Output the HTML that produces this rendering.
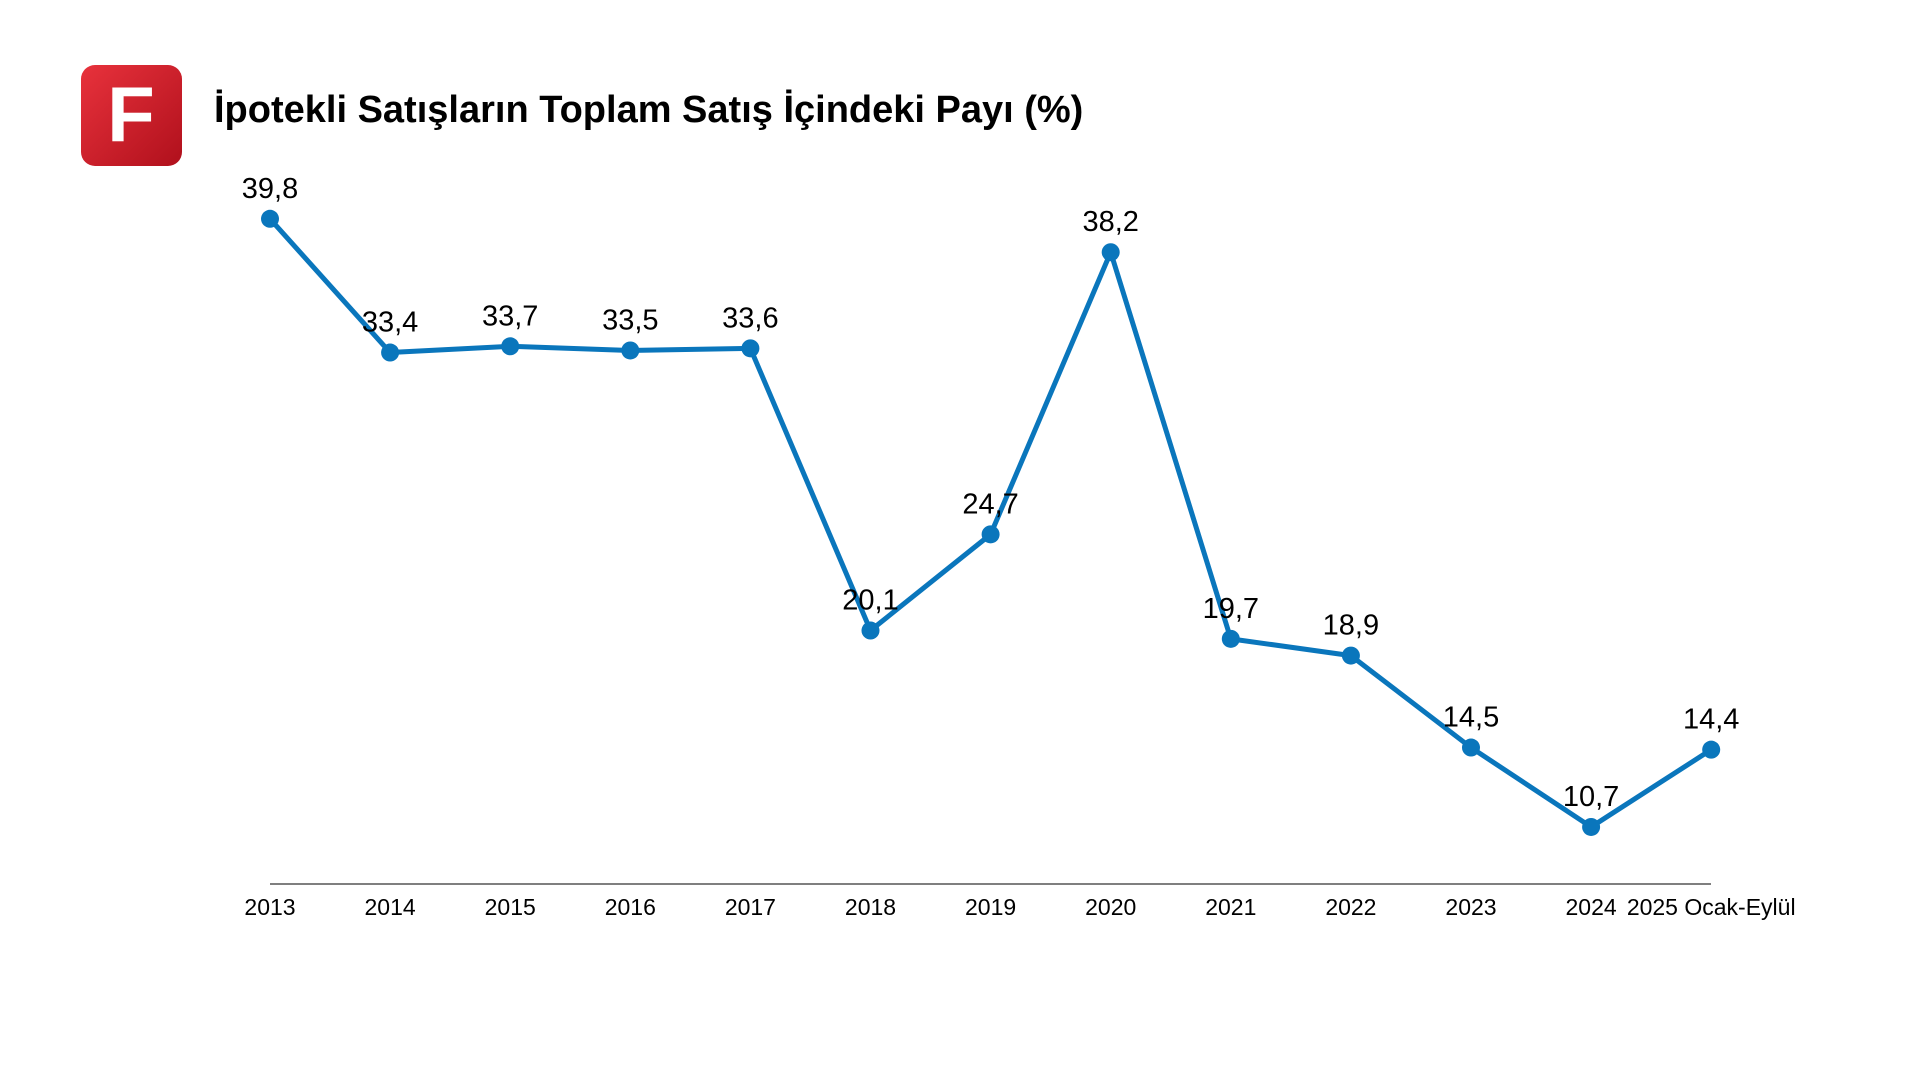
<!DOCTYPE html>
<html><head><meta charset="utf-8"><style>
body{margin:0;width:1920px;height:1080px;background:#fff;overflow:hidden;font-family:"Liberation Sans",sans-serif}
</style></head><body>
<svg width="1920" height="1080">
<defs><linearGradient id="lg" x1="0" y1="0" x2="1" y2="1"><stop offset="0" stop-color="#e8323c"/><stop offset="1" stop-color="#b0101c"/></linearGradient></defs>
<g>
<rect x="81" y="65" width="101" height="101" rx="14" fill="url(#lg)"/>
<text x="131" y="141" text-anchor="middle" font-size="78" font-weight="bold" fill="#fff">F</text>
</g>
<text x="214" y="122" font-size="38" font-weight="bold" fill="#000">İpotekli Satışların Toplam Satış İçindeki Payı (%)</text>
<line x1="270" y1="884" x2="1711" y2="884" stroke="#333" stroke-width="1.2"/>
<g id="g"></g>
</svg>
<script>
const categories=["2013","2014","2015","2016","2017","2018","2019","2020","2021","2022","2023","2024","2025 Ocak-Eylül"];
const values=[39.8,33.4,33.7,33.5,33.6,20.1,24.7,38.2,19.7,18.9,14.5,10.7,14.4];
const labels=["39,8","33,4","33,7","33,5","33,6","20,1","24,7","38,2","19,7","18,9","14,5","10,7","14,4"];
const g=document.getElementById('g'),NS='http://www.w3.org/2000/svg';
const xs=i=>270+i*120.1, ys=v=>1050.6-v*20.9;
const pl=document.createElementNS(NS,'polyline');
pl.setAttribute('points',values.map((v,i)=>xs(i)+','+ys(v)).join(' '));
pl.setAttribute('fill','none');pl.setAttribute('stroke','#0a76bc');pl.setAttribute('stroke-width','5');pl.setAttribute('stroke-linejoin','round');


g.appendChild(pl);
values.forEach((v,i)=>{
 const c=document.createElementNS(NS,'circle');
 c.setAttribute('cx',xs(i));c.setAttribute('cy',ys(v));c.setAttribute('r','9');c.setAttribute('fill','#0a76bc');
 
 
 g.appendChild(c);
 const t=document.createElementNS(NS,'text');
 t.setAttribute('x',xs(i));t.setAttribute('y',ys(v)-21);t.setAttribute('text-anchor','middle');t.setAttribute('font-size','29');
 t.textContent=labels[i];
 
 
 g.appendChild(t);
 const k=document.createElementNS(NS,'text');
 k.setAttribute('x',xs(i));k.setAttribute('y',915);k.setAttribute('text-anchor','middle');k.setAttribute('font-size','23');
 k.textContent=categories[i];
 
 
 g.appendChild(k);
});
</script>
</body></html>
